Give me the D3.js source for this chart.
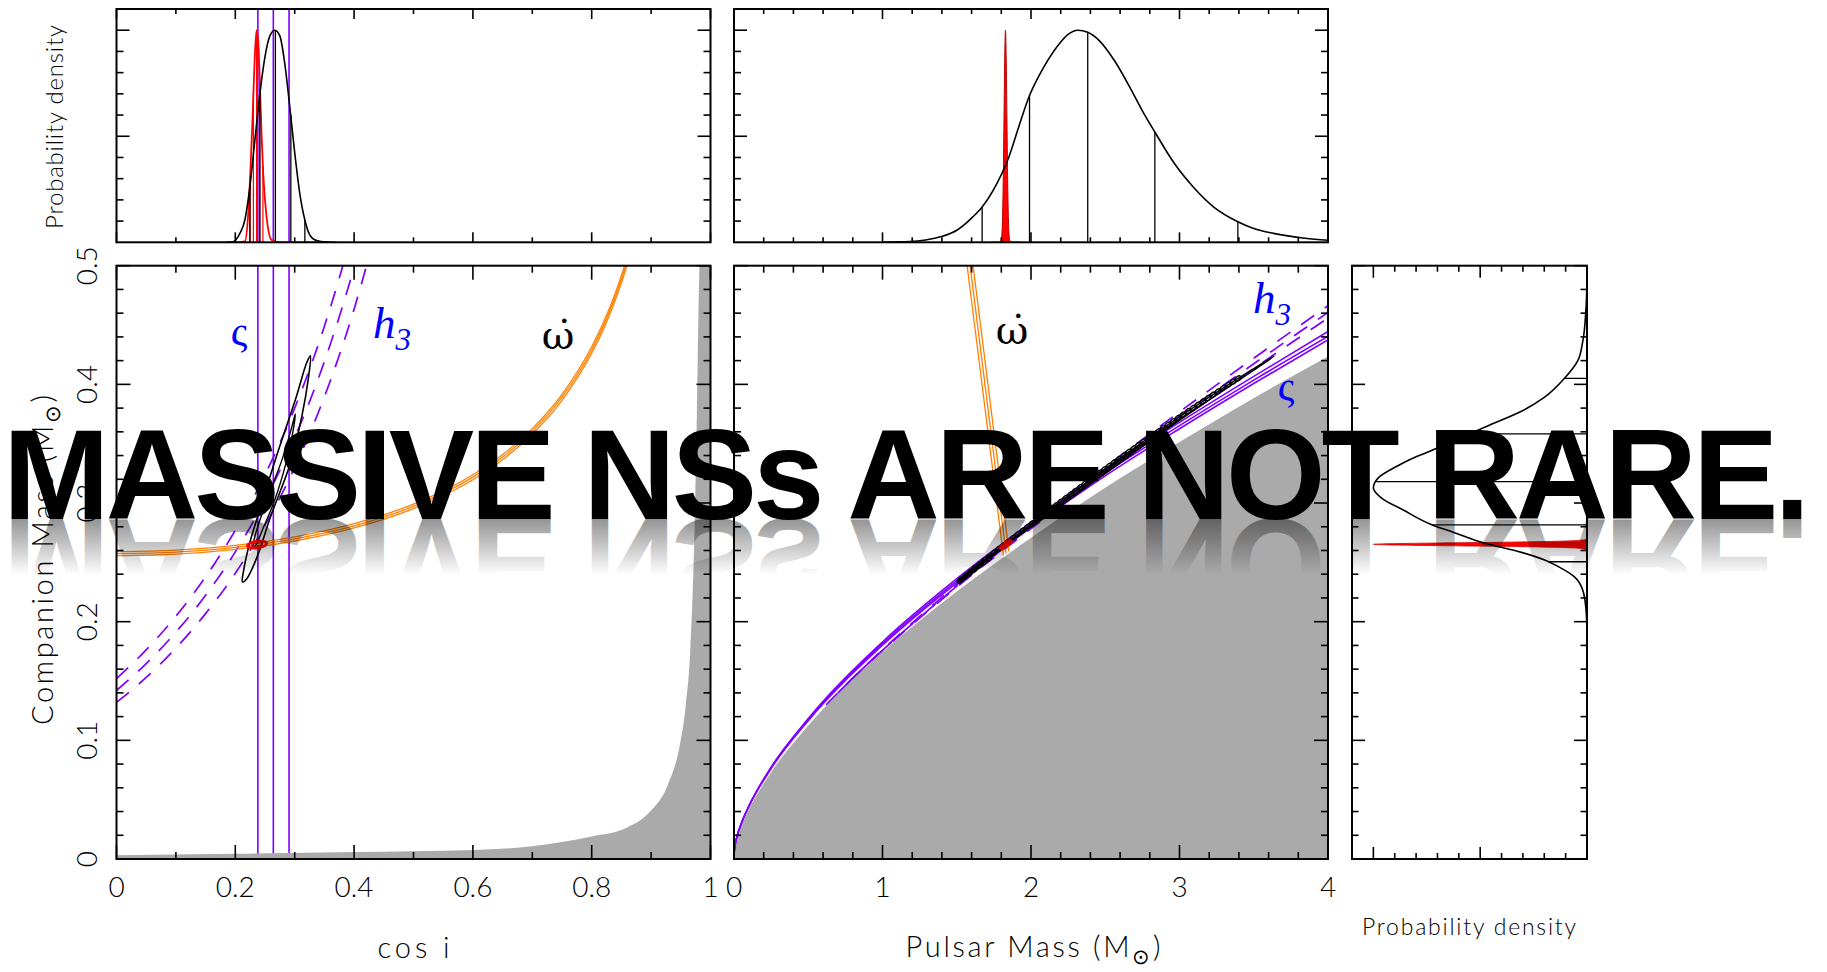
<!DOCTYPE html>
<html><head><meta charset="utf-8">
<script src="https://cdn.jsdelivr.net/npm/d3@7/dist/d3.min.js"></script>
<style>html,body{margin:0;padding:0;background:#fff;}svg{display:block;}</style>
</head><body>
<svg id="chart" width="1827" height="972"></svg>
<script>
// ================= DATA =================
const cosTickValues = [0, 0.2, 0.4, 0.6, 0.8, 1];
const cosTickLabels = ['0', '0.2', '0.4', '0.6', '0.8', '1'];
const mpTickValues  = [0, 1, 2, 3, 4];
const mpTickLabels  = ['0', '1', '2', '3', '4'];
const mcTickValues  = [0, 0.1, 0.2, 0.3, 0.4, 0.5];
const mcTickLabels  = ['0', '0.1', '0.2', '0.3', '0.4', '0.5'];

// grey excluded region (mass function), cos i panel
const greyCosi   = [0, 0.2, 0.4, 0.6, 0.7, 0.8, 0.858, 0.897, 0.928, 0.948, 0.958, 0.966, 0.973, 0.977, 0.9815, 1.0];
const greyCosiMc = [0.0032, 0.0045, 0.0058, 0.0075, 0.0108, 0.0190, 0.0261, 0.0393, 0.0624, 0.0952, 0.1278, 0.177, 0.2754, 0.3738, 0.500, 0.62];
// grey excluded region, pulsar-mass panel
const greyMp   = [0, 0.01, 0.02, 0.05, 0.1, 0.25, 0.5, 1, 1.5, 2, 2.5, 3, 3.5, 4];
const greyMpMc = [0.0039, 0.0131, 0.0183, 0.029, 0.0428, 0.0741, 0.1132, 0.175, 0.226, 0.2713, 0.3135, 0.352, 0.389, 0.424];

// stigma (ς) constraint
const sigmaCosi = [0.238, 0.264, 0.2905];
const sigmaMp   = [0, 0.01, 0.02, 0.05, 0.1, 0.25, 0.5, 1, 1.5, 2, 2.5, 3, 3.5, 4];
const sigmaMcA  = [0.0042, 0.0135, 0.0188, 0.0299, 0.0441, 0.0763, 0.1166, 0.1802, 0.2328, 0.2794, 0.3229, 0.3626, 0.4007, 0.4375];
const sigmaMcB  = [0.0044, 0.0137, 0.0190, 0.0301, 0.0444, 0.0768, 0.1174, 0.1815, 0.2344, 0.2814, 0.3252, 0.3652, 0.4036, 0.4405];
const sigmaMcC  = [0.0045, 0.0139, 0.0192, 0.0303, 0.0447, 0.0774, 0.1183, 0.1829, 0.2362, 0.2836, 0.3277, 0.3680, 0.4067, 0.4445];

// h3 constraint (dashed)
const h3Cosi  = [0, 0.05, 0.1, 0.15, 0.2, 0.25, 0.3, 0.35, 0.4, 0.43];
const h3McA   = [0.132, 0.1530, 0.1778, 0.2068, 0.2408, 0.2812, 0.3300, 0.3895, 0.4634, 0.5166];
const h3McB   = [0.142, 0.1647, 0.1912, 0.2222, 0.2588, 0.3025, 0.3550, 0.4192, 0.4990, 0.5563];
const h3McC   = [0.152, 0.1763, 0.2046, 0.2378, 0.2770, 0.3238, 0.3800, 0.4490, 0.5346, 0.5961];
const h3MpA   = [0.6206, 0.7873, 0.9944, 1.252, 1.5738, 1.9773, 2.4867, 3.1346, 3.968, 4.584];
const h3MpB   = [0.6988, 0.886, 1.1184, 1.4076, 1.7684, 2.2212, 2.7924, 3.519, 4.4534, 5.144];
const h3MpC   = [0.7803, 0.9887, 1.2474, 1.5694, 1.971, 2.4747, 3.1103, 3.9185, 4.957, 5.726];
const h3MidMcA = [0.130, 0.1511, 0.1757, 0.2046, 0.2388, 0.2797, 0.3290, 0.3891, 0.4634, 0.5166];
const h3MidMcB = [0.140, 0.1627, 0.1892, 0.2203, 0.2572, 0.3012, 0.3543, 0.4190, 0.4990, 0.5563];
const h3MidMcC = [0.150, 0.1743, 0.2027, 0.2361, 0.2756, 0.3228, 0.3796, 0.4490, 0.5346, 0.5961];

// periastron advance (omega-dot) constraint
const omegaCosi = [0, 0.1, 0.2, 0.3, 0.4, 0.5, 0.6, 0.65, 0.7, 0.75, 0.8, 0.82, 0.84, 0.86, 0.88];
const omegaMcA  = [0.2557, 0.2570, 0.2610, 0.2680, 0.2790, 0.2953, 0.3196, 0.3365, 0.3581, 0.3866, 0.4262, 0.4467, 0.4713, 0.5011, 0.5383];
const omegaMcB  = [0.2574, 0.2587, 0.2627, 0.2698, 0.2808, 0.2972, 0.3218, 0.3387, 0.3604, 0.3892, 0.4290, 0.4497, 0.4744, 0.5044, 0.5419];
const omegaMcC  = [0.2590, 0.2603, 0.2643, 0.2715, 0.2826, 0.2991, 0.3238, 0.3408, 0.3627, 0.3916, 0.4317, 0.4525, 0.4773, 0.5076, 0.5453];
const omegaMidMp = [[1.8143, 1.55], [1.8326, 1.57], [1.8510, 1.59]];
const omegaMidMc = [[0.2557, 0.52], [0.2574, 0.52], [0.2590, 0.52]];

// black probability contours (cos i – Mc)
const outerCosi = [0.3265, 0.323, 0.312, 0.293, 0.259, 0.237, 0.219, 0.212, 0.214, 0.223, 0.241, 0.269, 0.303, 0.320];
const outerMc   = [0.424, 0.405, 0.373, 0.334, 0.288, 0.255, 0.236, 0.2335, 0.243, 0.264, 0.294, 0.339, 0.390, 0.418];
const innerCosi = [0.301, 0.297, 0.285, 0.266, 0.247, 0.234, 0.230, 0.232, 0.241, 0.258, 0.279, 0.294];
const innerMc   = [0.375, 0.360, 0.333, 0.302, 0.279, 0.264, 0.262, 0.270, 0.285, 0.309, 0.337, 0.362];
// same contours in Mp – Mc
const chainMp = [3.638, 3.395, 3.005, 2.556, 2.061, 1.719, 1.533, 1.512, 1.609, 1.8265, 2.147, 2.648, 3.238, 3.573];
const chainMc = [0.424, 0.405, 0.373, 0.334, 0.288, 0.255, 0.236, 0.2335, 0.243, 0.264, 0.294, 0.339, 0.390, 0.418];
const innerChainMp = [3.049, 2.555, 2.213, 1.80];
const innerChainMc = [0.375, 0.333, 0.302, 0.262];

// red (final) solution
const redCosi = 0.2365, redMc = 0.2650, redHalfCosi = 0.0165, redHalfMc = 0.0028;
const redMidMp = [1.805, 1.855], redMidMc = [0.2625, 0.2675];

// top-left: PDF of cos i
const pdfCosiBlackX = [0.185, 0.1965, 0.2077, 0.2161, 0.2245, 0.2329, 0.2414, 0.2498, 0.2582, 0.2666, 0.2750, 0.2834, 0.2918, 0.3002, 0.3086, 0.3171, 0.3255, 0.3368, 0.3536, 0.37];
const pdfCosiBlackY = [0, 0.003, 0.042, 0.105, 0.261, 0.48, 0.70, 0.872, 0.973, 1.0, 0.973, 0.84, 0.637, 0.418, 0.23, 0.105, 0.034, 0.008, 0.001, 0];
const pctCosiBlack  = [0.2245, 0.2414, 0.2675, 0.2935, 0.3171];
const pctCosiBlackH = [0.261, 0.70, 1.0, 0.60, 0.105];
const pdfCosiRedX = [0.10, 0.205, 0.2161, 0.2218, 0.2257, 0.2291, 0.2325, 0.2358, 0.2386, 0.2414, 0.2442, 0.2470, 0.2526, 0.2611, 0.275, 0.36];
const pdfCosiRedY = [0, 0, 0.004, 0.136, 0.355, 0.59, 0.856, 1.0, 0.95, 0.746, 0.512, 0.324, 0.121, 0.011, 0, 0];
const pctCosiRed  = [0.2250, 0.2305, 0.2358, 0.2410, 0.2465];
const pctCosiRedH = [0.31, 0.70, 1.0, 0.77, 0.36];

// top-middle: PDF of pulsar mass
const pdfMpBlackX = [1.0, 1.184, 1.291, 1.397, 1.503, 1.610, 1.671, 1.770, 1.850, 1.920, 1.990, 2.050, 2.115, 2.195, 2.250, 2.315, 2.382, 2.461, 2.568, 2.674, 2.750, 2.834, 2.967, 3.100, 3.233, 3.393, 3.500, 3.632, 3.845, 4.0];
const pdfMpBlackY = [0, 0.003, 0.011, 0.027, 0.058, 0.121, 0.167, 0.277, 0.40, 0.55, 0.692, 0.78, 0.86, 0.94, 0.98, 1.0, 0.99, 0.95, 0.85, 0.72, 0.62, 0.52, 0.37, 0.255, 0.165, 0.097, 0.065, 0.042, 0.019, 0.01];
const pctMpBlack  = [1.671, 1.990, 2.382, 2.834, 3.393];
const pctMpBlackH = [0.167, 0.692, 0.99, 0.52, 0.097];
const pdfMpRedX = [1.73, 1.788, 1.798, 1.805, 1.812, 1.818, 1.823, 1.828, 1.833, 1.838, 1.844, 1.851, 1.858, 1.868, 1.93];
const pdfMpRedY = [0, 0, 0.007, 0.053, 0.242, 0.575, 0.871, 1.0, 0.871, 0.575, 0.242, 0.053, 0.007, 0, 0];

// right: PDF of companion mass
const pdfMcBlackMc = [0.192, 0.211, 0.2267, 0.238, 0.246, 0.252, 0.2596, 0.266, 0.275, 0.2815, 0.2941, 0.304, 0.3126, 0.3222, 0.331, 0.3363, 0.343, 0.3503, 0.3643, 0.3784, 0.389, 0.405, 0.420, 0.436, 0.463, 0.490];
const pdfMcBlackD  = [0, 0.005, 0.02, 0.06, 0.13, 0.198, 0.33, 0.476, 0.62, 0.724, 0.86, 0.96, 1.0, 0.971, 0.89, 0.833, 0.745, 0.65, 0.474, 0.295, 0.2, 0.106, 0.043, 0.02, 0.005, 0];
const pctMcBlack  = [0.405, 0.3582, 0.318, 0.2815, 0.2505];
const pctMcBlackH = [0.106, 0.56, 0.99, 0.724, 0.18];
const pdfMcRedMc = [0.2600, 0.2607, 0.2617, 0.2622, 0.2627, 0.2632, 0.2637, 0.2642, 0.2647, 0.2652, 0.2657, 0.2662, 0.2667, 0.2672, 0.2677, 0.2682, 0.2687, 0.2697, 0.2704];
const pdfMcRedD  = [0, 0.0025, 0.027, 0.07, 0.157, 0.306, 0.514, 0.744, 0.929, 1.0, 0.929, 0.744, 0.514, 0.306, 0.157, 0.07, 0.027, 0.0025, 0];

const titleText = 'MASSIVE NSs ARE NOT RARE.';

// ================= DRAWING =================
const svg = d3.select('#chart');
const defs = svg.append('defs');
const FONT = 'Lato, "DejaVu Sans", sans-serif';
const PURPLE = '#8000ff', ORANGE = '#ff8000', GREY = '#aaaaaa', BLUE = '#0000ff', RED = '#ff0000';
const DASH = '16,13';
const zip = (a, b) => a.map((v, i) => [v, b[i]]);

// panel geometry
const LX = [116.5, 710.5], MX = [734, 1328], RX = [1352, 1587];
const TOPY = [242.3, 9], MAINY = [859, 265.7];

const xCos = d3.scaleLinear().domain([0, 1]).range(LX);
const xMp  = d3.scaleLinear().domain([0, 4]).range(MX);
const yMc  = d3.scaleLinear().domain([0, 0.5]).range(MAINY);
const yDen = d3.scaleLinear().domain([0, 1.1]).range(TOPY);
const xDen = d3.scaleLinear().domain([0, 1.1]).range([RX[1], RX[0]]);

function clip(id, x0, x1, yb, yt) {
  defs.append('clipPath').attr('id', id).append('rect')
    .attr('x', x0).attr('y', yt).attr('width', x1 - x0).attr('height', yb - yt);
}
clip('cTL', LX[0], LX[1], TOPY[0], TOPY[1]);
clip('cTM', MX[0], MX[1], TOPY[0], TOPY[1]);
clip('cL', LX[0], LX[1], MAINY[0], MAINY[1]);
clip('cM', MX[0], MX[1], MAINY[0], MAINY[1]);
clip('cR', RX[0], RX[1], MAINY[0], MAINY[1]);

const gTL = svg.append('g').attr('clip-path', 'url(#cTL)');
const gTM = svg.append('g').attr('clip-path', 'url(#cTM)');
const gL  = svg.append('g').attr('clip-path', 'url(#cL)');
const gM  = svg.append('g').attr('clip-path', 'url(#cM)');
const gR  = svg.append('g').attr('clip-path', 'url(#cR)');

function path(g, pts, xs, ys, curve, style) {
  const p = g.append('path')
    .attr('d', d3.line().x(d => xs(d[0])).y(d => ys(d[1])).curve(curve)(pts))
    .attr('fill', 'none');
  Object.entries(style).forEach(([k, v]) => p.attr(k, v));
  return p;
}

// ---------- main left: cos i vs Mc ----------
sigmaCosi.forEach(c => path(gL, [[c, 0], [c, 0.55]], xCos, yMc, d3.curveLinear,
  {stroke: PURPLE, 'stroke-width': 1.6}));
[h3McA, h3McB, h3McC].forEach(arr => path(gL, zip(h3Cosi, arr), xCos, yMc, d3.curveMonotoneX,
  {stroke: PURPLE, 'stroke-width': 1.7, 'stroke-dasharray': DASH}));
[omegaMcA, omegaMcB, omegaMcC].forEach(arr => path(gL, zip(omegaCosi, arr), xCos, yMc, d3.curveMonotoneX,
  {stroke: ORANGE, 'stroke-width': 1.3}));
path(gL, zip(outerCosi, outerMc), xCos, yMc, d3.curveCatmullRomClosed, {stroke: '#000', 'stroke-width': 1.6});
path(gL, zip(innerCosi, innerMc), xCos, yMc, d3.curveCatmullRomClosed, {stroke: '#000', 'stroke-width': 1.4});
{
  const cx = xCos(redCosi), cy = yMc(redMc);
  const rx = xCos(redCosi + redHalfCosi) - cx, ry = cy - yMc(redMc + redHalfMc);
  gL.append('ellipse').attr('cx', cx).attr('cy', cy).attr('rx', rx).attr('ry', ry)
    .attr('transform', `rotate(-7.5 ${cx} ${cy})`).attr('fill', 'none').attr('stroke', RED).attr('stroke-width', 2.6);
  gL.append('ellipse').attr('cx', cx).attr('cy', cy).attr('rx', rx * 0.55).attr('ry', ry * 0.45)
    .attr('transform', `rotate(-7.5 ${cx} ${cy})`).attr('fill', 'none').attr('stroke', '#b00000').attr('stroke-width', 1.2);
}
gL.append('path')
  .attr('d', d3.area().x(d => xCos(d[0])).y0(yMc(0)).y1(d => yMc(d[1])).curve(d3.curveMonotoneX)(zip(greyCosi, greyCosiMc)))
  .attr('fill', GREY);

// ---------- main middle: Mp vs Mc ----------
gM.append('path')
  .attr('d', d3.area().x(d => xMp(d[0])).y0(yMc(0)).y1(d => yMc(d[1])).curve(d3.curveMonotoneX)(zip(greyMp, greyMpMc)))
  .attr('fill', GREY);
path(gM, zip(greyMp, greyMpMc), xMp, yMc, d3.curveMonotoneX, {stroke: '#fff', 'stroke-width': 1.2});
[sigmaMcA, sigmaMcB, sigmaMcC].forEach(arr => path(gM, zip(sigmaMp, arr), xMp, yMc, d3.curveMonotoneX,
  {stroke: PURPLE, 'stroke-width': 1.6}));
[[h3MpA, h3MidMcA], [h3MpB, h3MidMcB], [h3MpC, h3MidMcC]].forEach(([mp, mc]) => path(gM, zip(mp, mc), xMp, yMc, d3.curveMonotoneX,
  {stroke: PURPLE, 'stroke-width': 1.7, 'stroke-dasharray': DASH}));
omegaMidMp.forEach((mp, i) => path(gM, zip(mp, omegaMidMc[i]), xMp, yMc, d3.curveLinear,
  {stroke: ORANGE, 'stroke-width': 1.3}));
{
  const chain = path(gM, zip(chainMp, chainMc), xMp, yMc, d3.curveCatmullRomClosed, {stroke: '#000', 'stroke-width': 1.4});
  path(gM, zip(innerChainMp, innerChainMc), xMp, yMc, d3.curveCatmullRomClosed, {stroke: '#000', 'stroke-width': 1.2});
  const node = chain.node(), L = node.getTotalLength();
  const beads = [];
  for (let s = 0; s < L / 2; s += 6) beads.push(node.getPointAtLength(s));
  gM.selectAll(null).data(beads).join('ellipse')
    .attr('cx', d => d.x).attr('cy', d => d.y).attr('rx', 3.2).attr('ry', 2.1)
    .attr('transform', d => `rotate(-36 ${d.x} ${d.y})`)
    .attr('fill', 'none').attr('stroke', '#000').attr('stroke-width', 1.4);
}
path(gM, zip(redMidMp, redMidMc), xMp, yMc, d3.curveLinear, {stroke: RED, 'stroke-width': 6, 'stroke-linecap': 'round'});

// ---------- top left: PDF cos i ----------
sigmaCosi.forEach(c => path(gTL, [[c, 0], [c, 1.2]], xCos, yDen, d3.curveLinear, {stroke: PURPLE, 'stroke-width': 1.6}));
pctCosiRed.forEach((c, i) => path(gTL, [[c, 0], [c, pctCosiRedH[i]]], xCos, yDen, d3.curveLinear, {stroke: RED, 'stroke-width': 1.2}));
path(gTL, zip(pdfCosiRedX, pdfCosiRedY), xCos, yDen, d3.curveMonotoneX, {stroke: RED, 'stroke-width': 1.8});
pctCosiBlack.forEach((c, i) => path(gTL, [[c, 0], [c, pctCosiBlackH[i]]], xCos, yDen, d3.curveLinear, {stroke: '#000', 'stroke-width': 1.3}));
path(gTL, zip(pdfCosiBlackX, pdfCosiBlackY), xCos, yDen, d3.curveMonotoneX, {stroke: '#000', 'stroke-width': 1.6});

// ---------- top middle: PDF Mp ----------
gTM.append('path')
  .attr('d', d3.area().x(d => xMp(d[0])).y0(yDen(0)).y1(d => yDen(d[1])).curve(d3.curveMonotoneX)(zip(pdfMpRedX, pdfMpRedY)))
  .attr('fill', RED).attr('stroke', '#c00000').attr('stroke-width', 1);
pctMpBlack.forEach((m, i) => path(gTM, [[m, 0], [m, pctMpBlackH[i]]], xMp, yDen, d3.curveLinear, {stroke: '#000', 'stroke-width': 1.3}));
path(gTM, zip(pdfMpBlackX, pdfMpBlackY), xMp, yDen, d3.curveMonotoneX, {stroke: '#000', 'stroke-width': 1.6});

// ---------- right: PDF Mc ----------
gR.append('path')
  .attr('d', d3.area().y(d => yMc(d[0])).x0(xDen(0)).x1(d => xDen(d[1])).curve(d3.curveMonotoneY)(zip(pdfMcRedMc, pdfMcRedD)))
  .attr('fill', RED).attr('stroke', '#d00000').attr('stroke-width', 0.8);
pctMcBlack.forEach((m, i) => gR.append('line')
  .attr('x1', xDen(pctMcBlackH[i])).attr('x2', xDen(0)).attr('y1', yMc(m)).attr('y2', yMc(m))
  .attr('stroke', '#000').attr('stroke-width', 1.3));
gR.append('path')
  .attr('d', d3.line().y(d => yMc(d[0])).x(d => xDen(d[1])).curve(d3.curveMonotoneY)(zip(pdfMcBlackMc, pdfMcBlackD)))
  .attr('fill', 'none').attr('stroke', '#000').attr('stroke-width', 1.6);

// ---------- frames & ticks ----------
const gAx = svg.append('g');
function frameTicks(x0, x1, yb, yt, xs, ys, xMaj, xMin, yMaj, yMin, xl, yl) {
  gAx.append('rect').attr('x', x0).attr('y', yt).attr('width', x1 - x0).attr('height', yb - yt)
    .attr('fill', 'none').attr('stroke', '#000').attr('stroke-width', 2);
  const seg = (a, b, c, d) => gAx.append('line').attr('x1', a).attr('y1', b).attr('x2', c).attr('y2', d)
    .attr('stroke', '#000').attr('stroke-width', 1.6);
  const xt = (vals, len) => vals.forEach(v => { const x = xs(v); seg(x, yb, x, yb - len); seg(x, yt, x, yt + len); });
  const yt_ = (vals, len) => vals.forEach(v => { const y = ys(v); seg(x0, y, x0 + len, y); seg(x1, y, x1 - len, y); });
  xt(xMaj, xl[0]); xt(xMin, xl[1]); yt_(yMaj, yl[0]); yt_(yMin, yl[1]);
}
const near = (a, b) => a.some(v => Math.abs(v - b) < 1e-6);
const cosMinor = d3.range(0, 1.0001, 0.1).filter(v => !near(cosTickValues, v));
const mpMinor  = d3.range(0, 4.0001, 0.2).filter(v => !near(mpTickValues, v));
const mcMinor  = d3.range(0, 0.5001, 0.02).filter(v => !near(mcTickValues, v));
const denMajor = [0.5, 1.0];
const denMinor = [0.1, 0.2, 0.3, 0.4, 0.6, 0.7, 0.8, 0.9];

frameTicks(LX[0], LX[1], TOPY[0], TOPY[1], xCos, yDen, cosTickValues, cosMinor, denMajor, denMinor, [10, 5], [13, 7]);
frameTicks(MX[0], MX[1], TOPY[0], TOPY[1], xMp, yDen, mpTickValues, mpMinor, denMajor, denMinor, [10, 5], [13, 7]);
frameTicks(LX[0], LX[1], MAINY[0], MAINY[1], xCos, yMc, cosTickValues, cosMinor, mcTickValues, mcMinor, [14, 7], [14, 7]);
frameTicks(MX[0], MX[1], MAINY[0], MAINY[1], xMp, yMc, mpTickValues, mpMinor, mcTickValues, mcMinor, [14, 7], [14, 7]);
frameTicks(RX[0], RX[1], MAINY[0], MAINY[1], xDen, yMc, denMajor, denMinor, mcTickValues, mcMinor, [12, 6], [13, 6.5]);

// ---------- tick labels ----------
const gT = svg.append('g').attr('font-family', FONT).attr('font-weight', 300).attr('fill', '#000');
gT.selectAll(null).data(cosTickValues).join('text')
  .attr('x', d => xCos(d)).attr('y', 897).attr('text-anchor', 'middle').attr('font-size', 28)
  .text((d, i) => cosTickLabels[i]);
gT.selectAll(null).data(mpTickValues).join('text')
  .attr('x', d => xMp(d)).attr('y', 897).attr('text-anchor', 'middle').attr('font-size', 28)
  .text((d, i) => mpTickLabels[i]);
gT.selectAll(null).data(mcTickValues).join('text')
  .attr('transform', d => `translate(97,${yMc(d)}) rotate(-90)`).attr('text-anchor', 'middle').attr('font-size', 28)
  .text((d, i) => mcTickLabels[i]);

// axis titles
gT.append('text').attr('x', 413.5).attr('y', 958).attr('text-anchor', 'middle').attr('font-size', 29)
  .attr('textLength', 72).attr('lengthAdjust', 'spacing').text('cos i');
{
  const t = gT.append('text').attr('x', 1033).attr('y', 957).attr('text-anchor', 'middle').attr('font-size', 29)
    .attr('textLength', 255).attr('lengthAdjust', 'spacing');
  t.append('tspan').text('Pulsar Mass (M');
  t.append('tspan').attr('font-size', 21).attr('dy', 7).text('⊙');
  t.append('tspan').attr('dy', -7).text(')');
}
gT.append('text').attr('x', 1469).attr('y', 935).attr('text-anchor', 'middle').attr('font-size', 23)
  .attr('textLength', 214).attr('lengthAdjust', 'spacing').text('Probability density');
gT.append('text').attr('transform', 'translate(63,127) rotate(-90)').attr('text-anchor', 'middle').attr('font-size', 24)
  .attr('textLength', 204).attr('lengthAdjust', 'spacing').text('Probability density');
{
  const t = gT.append('text').attr('transform', 'translate(53,560) rotate(-90)').attr('text-anchor', 'middle').attr('font-size', 29)
    .attr('textLength', 330).attr('lengthAdjust', 'spacing');
  t.append('tspan').text('Companion Mass (M');
  t.append('tspan').attr('font-size', 21).attr('dy', 7).text('⊙');
  t.append('tspan').attr('dy', -7).text(')');
}

// ---------- constraint labels ----------
const gLab = svg.append('g').attr('font-family', '"Liberation Serif", "DejaVu Serif", serif');
function h3Label(x, y) {
  const t = gLab.append('text').attr('x', x).attr('y', y).attr('fill', BLUE).attr('font-size', 45).attr('font-style', 'italic');
  t.append('tspan').text('h');
  t.append('tspan').attr('font-size', 31).attr('dy', 12).text('3');
}
h3Label(373, 338);
h3Label(1253, 313);
gLab.append('text').attr('x', 239).attr('y', 345).attr('text-anchor', 'middle').attr('fill', BLUE).attr('font-size', 42).text('ς');
gLab.append('text').attr('x', 1286).attr('y', 400).attr('text-anchor', 'middle').attr('fill', BLUE).attr('font-size', 42).text('ς');
function omegaDot(x, y) {
  // omega with a combining dot above, set in DejaVu Serif (which positions the mark)
  gLab.append('text').attr('x', x).attr('y', y).attr('text-anchor', 'middle')
    .attr('font-family', '"DejaVu Serif", serif').attr('fill', '#000').attr('font-size', 40).text('ω\u0307');
}
omegaDot(558, 349);
omegaDot(1012, 344);

// ---------- overlay title with reflection ----------
const grad = defs.append('linearGradient').attr('id', 'refl').attr('x1', 0).attr('y1', 0).attr('x2', 0).attr('y2', 1);
grad.append('stop').attr('offset', 0).attr('stop-color', '#000').attr('stop-opacity', 0);
grad.append('stop').attr('offset', 0.42).attr('stop-color', '#000').attr('stop-opacity', 0);
grad.append('stop').attr('offset', 0.81).attr('stop-color', '#000').attr('stop-opacity', 0.42);
grad.append('stop').attr('offset', 1).attr('stop-color', '#000').attr('stop-opacity', 0.42);
const TB = 519;
svg.append('text').attr('x', 3).attr('y', TB)
  .attr('transform', `translate(0,${2 * TB}) scale(1,-1)`)
  .attr('font-family', '"Liberation Sans", Arial, sans-serif').attr('font-weight', 700).attr('font-size', 128)
  .attr('textLength', 1807).attr('lengthAdjust', 'spacing')
  .attr('fill', 'url(#refl)').text(titleText);
svg.append('text').attr('x', 3).attr('y', TB)
  .attr('font-family', '"Liberation Sans", Arial, sans-serif').attr('font-weight', 700).attr('font-size', 128)
  .attr('textLength', 1807).attr('lengthAdjust', 'spacing')
  .attr('fill', '#000').text(titleText);
</script>
</body></html>
